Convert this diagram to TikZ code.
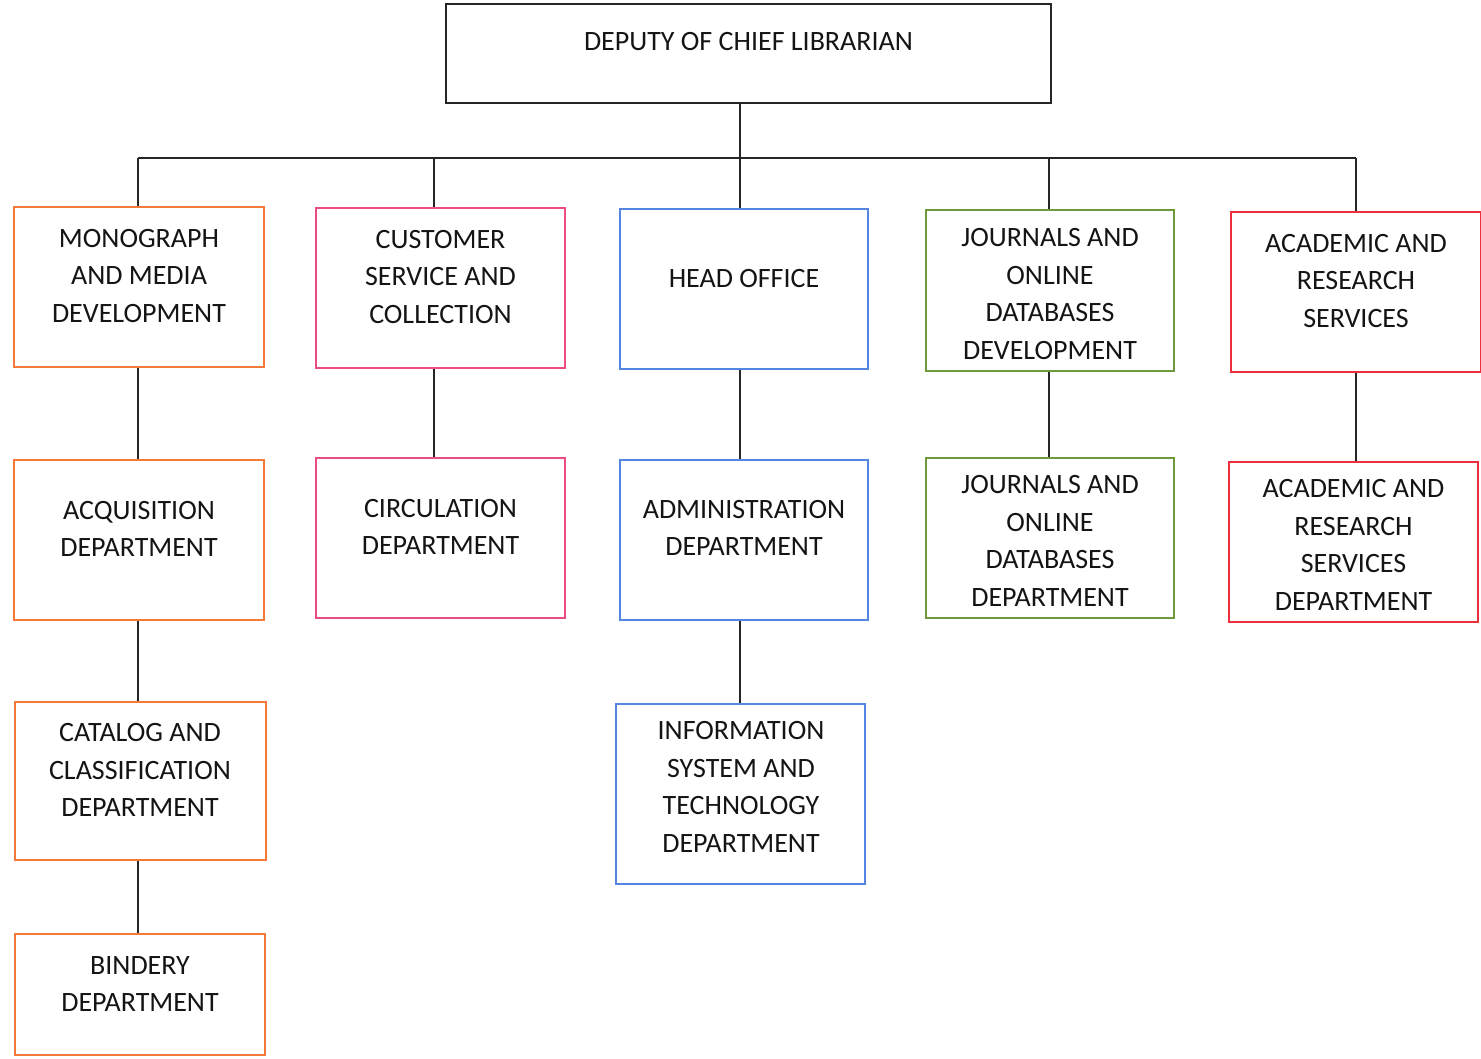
\documentclass[tikz,border=0pt]{standalone}
\usepackage{fontspec}
\setmainfont{Carlito}
\usetikzlibrary{calc}
\definecolor{cOrange}{HTML}{F47A3A}
\definecolor{cPink}{HTML}{EC4C80}
\definecolor{cBlue}{HTML}{5585E0}
\definecolor{cGreen}{HTML}{6E9A3C}
\definecolor{cRed}{HTML}{EC2F3C}
\tikzset{
  box/.style={draw=#1, line width=2pt, minimum width=249pt, minimum height=160pt, inner sep=0pt},
  lbl/.style={align=center, font=\fontsize{28}{37.5}\selectfont, text=black!92, inner sep=0pt},
  conn/.style={draw=black!85, line width=1.5pt},
}
\begin{document}
\begin{tikzpicture}[x=1pt,y=-1pt]
\useasboundingbox (0,0) rectangle (1481,1059);
% top box
\node[draw=black!85, line width=2.5pt, minimum width=605pt, minimum height=99pt] (top) at (748.5,53.5) {};
\node[lbl] (ttop) at (748.5,42) {DEPUTY OF CHIEF LIBRARIAN};
% bus coordinates
\coordinate (b1) at (138,158);
\coordinate (b2) at (434,158);
\coordinate (b3) at (740,158);
\coordinate (b4) at (1049,158);
\coordinate (b5) at (1356,158);
% column 1
\node[box=cOrange, minimum width=250pt] (m1) at (139,287) {};
\node[lbl] at (139,276) {MONOGRAPH\\AND MEDIA\\DEVELOPMENT};
\node[box=cOrange, minimum width=250pt] (m2) at (139,540) {};
\node[lbl] at (139,529) {ACQUISITION\\DEPARTMENT};
\node[box=cOrange, minimum width=251pt, minimum height=158pt] (m3) at (140,781) {};
\node[lbl] at (140,770) {CATALOG AND\\CLASSIFICATION\\DEPARTMENT};
\node[box=cOrange, minimum width=250pt, minimum height=121pt] (m4) at (140,994.5) {};
\node[lbl] at (140,984) {BINDERY\\DEPARTMENT};
% column 2
\node[box=cPink] (c1) at (440.5,288) {};
\node[lbl] at (440.5,277) {CUSTOMER\\SERVICE AND\\COLLECTION};
\node[box=cPink] (c2) at (440.5,538) {};
\node[lbl] at (440.5,527) {CIRCULATION\\DEPARTMENT};
% column 3
\node[box=cBlue, minimum width=248pt] (h1) at (744,289) {};
\node[lbl] at (744,279) {HEAD OFFICE};
\node[box=cBlue, minimum width=248pt] (h2) at (744,540) {};
\node[lbl] at (744,528) {ADMINISTRATION\\DEPARTMENT};
\node[box=cBlue, minimum width=249pt, minimum height=180pt] (h3) at (740.5,794) {};
\node[lbl] at (741,787) {INFORMATION\\SYSTEM AND\\TECHNOLOGY\\DEPARTMENT};
% column 4
\node[box=cGreen, minimum width=248pt, minimum height=161pt] (j1) at (1050,290.5) {};
\node[lbl] at (1050,294) {JOURNALS AND\\ONLINE\\DATABASES\\DEVELOPMENT};
\node[box=cGreen, minimum width=248pt] (j2) at (1050,538) {};
\node[lbl] at (1050,541) {JOURNALS AND\\ONLINE\\DATABASES\\DEPARTMENT};
% column 5
\node[box=cRed, minimum width=250pt] (a1) at (1356,292) {};
\node[lbl] at (1356,281) {ACADEMIC AND\\RESEARCH\\SERVICES};
\node[box=cRed, minimum width=249pt] (a2) at (1353.5,542) {};
\node[lbl] at (1353.5,545) {ACADEMIC AND\\RESEARCH\\SERVICES\\DEPARTMENT};
% connectors
\draw[conn] (b1) -- (b5);
\draw[conn] (top.south -| b3) -- (b3) -- (h1.north -| b3);
\draw[conn] (b1) -- (m1.north -| b1);
\draw[conn] (b2) -- (c1.north -| b2);
\draw[conn] (b4) -- (j1.north -| b4);
\draw[conn] (b5) -- (a1.north -| b5);
\draw[conn] (m1.south -| b1) -- (m2.north -| b1);
\draw[conn] (m2.south -| b1) -- (m3.north -| b1);
\draw[conn] (m3.south -| b1) -- (m4.north -| b1);
\draw[conn] (c1.south -| b2) -- (c2.north -| b2);
\draw[conn] (h1.south -| b3) -- (h2.north -| b3);
\draw[conn] (h2.south -| b3) -- (h3.north -| b3);
\draw[conn] (j1.south -| b4) -- (j2.north -| b4);
\draw[conn] (a1.south -| b5) -- (a2.north -| b5);
\end{tikzpicture}
\end{document}
